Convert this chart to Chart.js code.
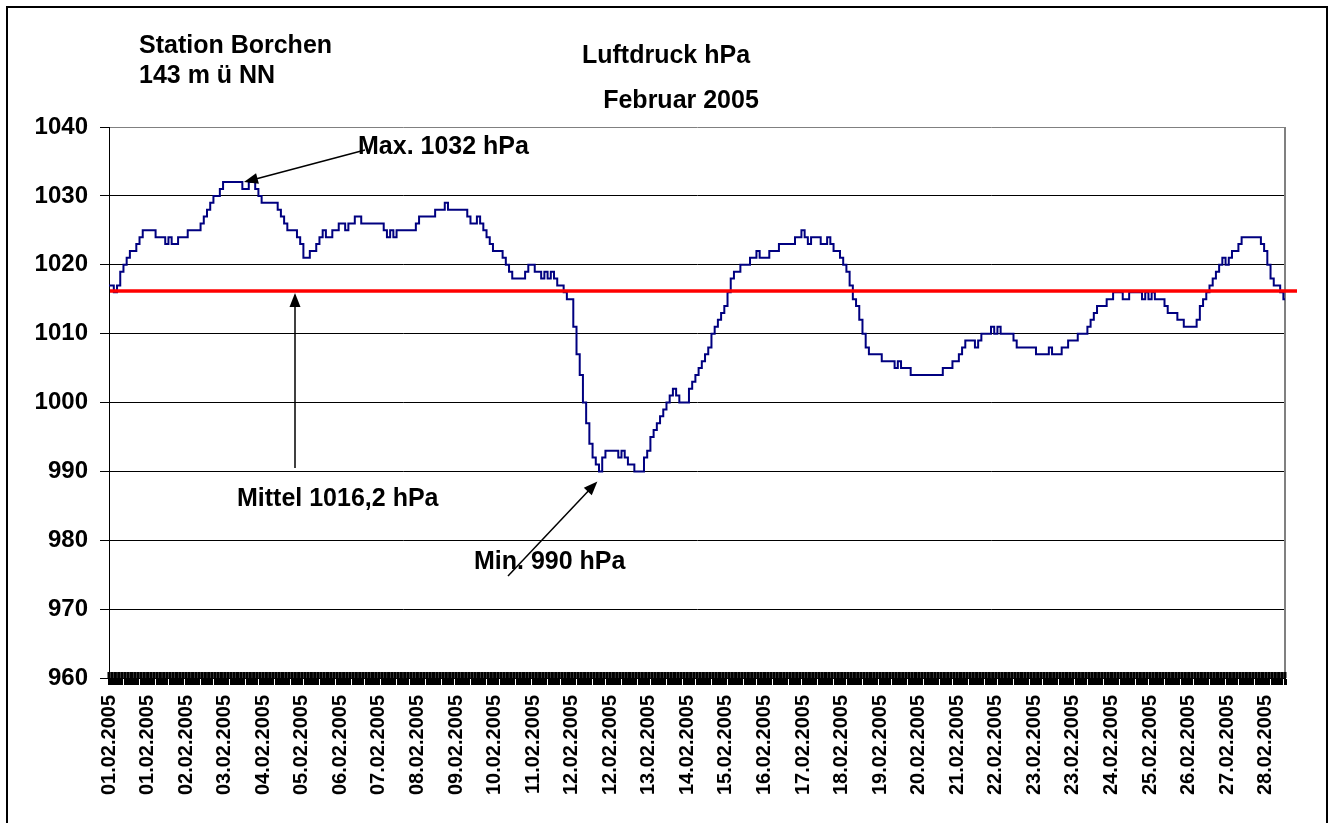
<!DOCTYPE html>
<html>
<head>
<meta charset="utf-8">
<script src="https://cdn.jsdelivr.net/npm/chart.js@4.4.1/dist/chart.umd.min.js"></script>
<style>
html, body { margin: 0; padding: 0; background: #fff; }
#wrap { position: relative; width: 1334px; height: 823px; overflow: hidden; }
#frame { position: absolute; left: 6px; top: 6px; width: 1318px; height: 830px; border: 2px solid #000; pointer-events: none; }
</style>
</head>
<body>
<div id="wrap">
<canvas id="luftdruck" width="1334" height="823"></canvas>
<div id="frame"></div>
</div>
<script>
// Beschriftung der x-Achse (jeder 12. Messwert)
const dateLabels = [
    '01.02.2005', '01.02.2005', '02.02.2005', '03.02.2005', '04.02.2005', '05.02.2005',
    '06.02.2005', '07.02.2005', '08.02.2005', '09.02.2005', '10.02.2005', '11.02.2005',
    '12.02.2005', '12.02.2005', '13.02.2005', '14.02.2005', '15.02.2005', '16.02.2005',
    '17.02.2005', '18.02.2005', '19.02.2005', '20.02.2005', '21.02.2005', '22.02.2005',
    '23.02.2005', '23.02.2005', '24.02.2005', '25.02.2005', '26.02.2005', '27.02.2005',
    '28.02.2005'
];
const labelStep = 12;

// Luftdruck in hPa
const pressure = [
    1017,1017,1016,1017,1019,1020,1021,1022,1022,1023,
    1024,1025,1025,1025,1025,1024,1024,1024,1023,1024,
    1023,1023,1024,1024,1024,1025,1025,1025,1025,1026,
    1027,1028,1029,1030,1030,1031,1032,1032,1032,1032,
    1032,1032,1031,1031,1032,1032,1031,1030,1029,1029,
    1029,1029,1029,1028,1027,1026,1025,1025,1025,1024,
    1023,1021,1021,1022,1022,1023,1024,1025,1024,1024,
    1025,1025,1026,1026,1025,1026,1026,1027,1027,1026,
    1026,1026,1026,1026,1026,1026,1025,1024,1025,1024,
    1025,1025,1025,1025,1025,1025,1026,1027,1027,1027,
    1027,1027,1028,1028,1028,1029,1028,1028,1028,1028,
    1028,1028,1027,1026,1026,1027,1026,1025,1024,1023,
    1022,1022,1022,1021,1020,1019,1018,1018,1018,1018,
    1019,1020,1020,1019,1019,1018,1019,1018,1019,1018,
    1017,1017,1016,1015,1015,1011,1007,1004,1000,997,
    994,992,991,990,992,993,993,993,993,992,
    993,992,991,991,990,990,990,992,993,995,
    996,997,998,999,1000,1001,1002,1001,1000,1000,
    1000,1002,1003,1004,1005,1006,1007,1008,1010,1011,
    1012,1013,1014,1016,1018,1019,1019,1020,1020,1020,
    1021,1021,1022,1021,1021,1021,1022,1022,1022,1023,
    1023,1023,1023,1023,1024,1024,1025,1024,1023,1024,
    1024,1024,1023,1023,1024,1023,1022,1022,1021,1020,
    1019,1017,1015,1014,1012,1010,1008,1007,1007,1007,
    1007,1006,1006,1006,1006,1005,1006,1005,1005,1005,
    1004,1004,1004,1004,1004,1004,1004,1004,1004,1004,
    1005,1005,1005,1006,1006,1007,1008,1009,1009,1009,
    1008,1009,1010,1010,1010,1011,1010,1011,1010,1010,
    1010,1010,1009,1008,1008,1008,1008,1008,1008,1007,
    1007,1007,1007,1008,1007,1007,1007,1008,1008,1009,
    1009,1009,1010,1010,1010,1011,1012,1013,1014,1014,
    1014,1015,1015,1016,1016,1016,1015,1015,1016,1016,
    1016,1016,1015,1016,1015,1016,1015,1015,1015,1014,
    1013,1013,1013,1012,1012,1011,1011,1011,1011,1012,
    1014,1015,1016,1017,1018,1019,1020,1021,1020,1021,
    1022,1022,1023,1024,1024,1024,1024,1024,1024,1023,
    1022,1020,1018,1017,1017,1016,1015
];

const mittel = 1016.2;
const maxWert = 1032;
const minWert = 990;

const labels = pressure.map((p, i) => i % labelStep === 0 ? (dateLabels[i / labelStep] || '') : '');

const FONT = "'Liberation Sans', Arial, sans-serif";

function pfeil(ctx, x1, y1, x2, y2) {
    const a = Math.atan2(y2 - y1, x2 - x1);
    const len = 14, half = 5.5;
    ctx.beginPath();
    ctx.moveTo(x1, y1);
    ctx.lineTo(x2 - Math.cos(a) * len * 0.8, y2 - Math.sin(a) * len * 0.8);
    ctx.stroke();
    ctx.beginPath();
    ctx.moveTo(x2, y2);
    ctx.lineTo(x2 - Math.cos(a) * len - Math.sin(a) * half, y2 - Math.sin(a) * len + Math.cos(a) * half);
    ctx.lineTo(x2 - Math.cos(a) * len + Math.sin(a) * half, y2 - Math.sin(a) * len - Math.cos(a) * half);
    ctx.closePath();
    ctx.fill();
}

const rahmen = {
    id: 'rahmen',
    beforeDatasetsDraw(chart) {
        const {ctx, chartArea, scales: {x}} = chart;
        ctx.save();
        // rechter Rand der Zeichenfläche
        ctx.strokeStyle = '#808080';
        ctx.lineWidth = 2;
        ctx.beginPath();
        ctx.moveTo(chartArea.right, chartArea.top);
        ctx.lineTo(chartArea.right, chartArea.bottom);
        ctx.stroke();
        // Teilstriche kreuzen die Achse
        ctx.strokeStyle = '#000';
        ctx.lineWidth = 3;
        ctx.beginPath();
        x.ticks.forEach((t, i) => {
            const px = x.getPixelForTick(i);
            ctx.moveTo(px, chartArea.bottom - 6);
            ctx.lineTo(px, chartArea.bottom);
        });
        ctx.stroke();
        ctx.restore();
    },
    afterDatasetsDraw(chart) {
        const {ctx, chartArea, scales: {x, y}} = chart;
        ctx.save();
        // Mittelwert
        const ym = y.getPixelForValue(mittel);
        ctx.strokeStyle = '#ff0000';
        ctx.lineWidth = 3.5;
        ctx.beginPath();
        ctx.moveTo(chartArea.left + 1, ym);
        ctx.lineTo(chartArea.right + 12, ym);
        ctx.stroke();

        // Texte
        ctx.fillStyle = '#000';
        ctx.font = 'bold 25px ' + FONT;
        ctx.textAlign = 'left';
        ctx.textBaseline = 'alphabetic';
        ctx.fillText('Station Borchen', 139, 53);
        ctx.fillText('143 m ü NN', 139, 83);
        ctx.textAlign = 'center';
        ctx.fillText('Luftdruck hPa', 666, 63);
        ctx.fillText('Februar 2005', 681, 108);
        ctx.textAlign = 'left';
        ctx.fillText('Max. 1032 hPa', 358, 154);
        ctx.fillText('Mittel 1016,2 hPa', 237, 506);
        ctx.fillText('Min. 990 hPa', 474, 569);

        // Pfeile
        ctx.strokeStyle = '#000';
        ctx.lineWidth = 1.5;
        pfeil(ctx, 365, 150, x.getPixelForValue(42), y.getPixelForValue(maxWert));
        pfeil(ctx, 295, 468, 295, ym + 2);
        pfeil(ctx, 508, 576, x.getPixelForValue(152), y.getPixelForValue(minWert) + 10);
        ctx.restore();
    }
};

new Chart(document.getElementById('luftdruck'), {
    type: 'line',
    data: {
        labels: labels,
        datasets: [{
            label: 'Luftdruck',
            data: pressure,
            borderColor: '#000080',
            borderWidth: 2,
            pointRadius: 0,
            stepped: 'middle',
            fill: false
        }]
    },
    options: {
        responsive: false,
        animation: false,
        devicePixelRatio: 1,
        layout: { padding: { top: 127, right: 49, left: 0, bottom: 0 } },
        plugins: {
            legend: { display: false },
            title: { display: false },
            tooltip: { enabled: false }
        },
        scales: {
            x: {
                type: 'category',
                offset: false,
                grid: {
                    drawOnChartArea: false,
                    drawTicks: true,
                    tickLength: 7,
                    tickWidth: 3,
                    tickColor: '#000'
                },
                border: { color: '#000', width: 1 },
                ticks: {
                    autoSkip: false,
                    minRotation: 90,
                    maxRotation: 90,
                    padding: 10,
                    color: '#000',
                    font: { family: FONT, size: 20, weight: 'bold' }
                },
                afterFit(scale) { scale.height = 145; }
            },
            y: {
                min: 960,
                max: 1040,
                ticks: {
                    stepSize: 10,
                    padding: 12,
                    color: '#000',
                    font: { family: FONT, size: 24, weight: 'bold' },
                    callback: v => String(v)
                },
                grid: {
                    color: ctx => ctx.tick && ctx.tick.value === 1040 ? '#808080' : '#000',
                    tickColor: '#000',
                    tickLength: 9,
                    lineWidth: 1
                },
                border: { color: '#000', width: 1 },
                afterFit(scale) { scale.width = 109; }
            }
        }
    },
    plugins: [rahmen]
});
</script>
</body>
</html>
